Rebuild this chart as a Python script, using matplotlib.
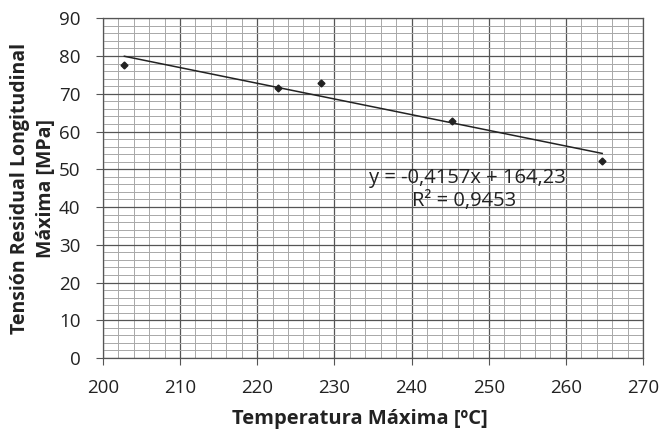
import numpy as np
import matplotlib.pyplot as plt
from matplotlib.ticker import MultipleLocator

temp = [202.8, 222.7, 228.3, 245.3, 264.7]
tension = [77.5, 71.5, 72.8, 62.8, 52.3]
slope = -0.4157
intercept = 164.23
r2 = 0.9453

plt.rcParams['font.family'] = ['Open Sans', 'DejaVu Sans']

fig = plt.figure(figsize=(6.63, 4.34), dpi=100)
ax = fig.add_axes([0.155, 0.175, 0.815, 0.783])

ax.set_xlim(200, 270)
ax.set_ylim(0, 90)
ax.xaxis.set_major_locator(MultipleLocator(10))
ax.yaxis.set_major_locator(MultipleLocator(10))
ax.xaxis.set_minor_locator(MultipleLocator(2))
ax.yaxis.set_minor_locator(MultipleLocator(2))
ax.grid(which='major', color='#555555', lw=0.9)
ax.grid(which='minor', color='#a8a8a8', lw=0.7)
ax.set_axisbelow(True)
for s in ax.spines.values():
    s.set_color('#555555')
    s.set_linewidth(0.9)
ax.tick_params(which='major', length=5, color='#555555', labelsize=13.5, labelcolor='#222222')
ax.tick_params(axis='x', pad=10)
ax.tick_params(axis='y', pad=11)
ax.tick_params(which='minor', length=0)

xs = np.array([min(temp), max(temp)])
ax.plot(xs, slope * xs + intercept, color='#222222', lw=1.1)
ax.plot(temp, tension, 'D', color='#222222', ms=3.5, ls='none')

eq = 'y = {}x + {}'.format(str(slope).replace('.', ','), str(intercept).replace('.', ','))
ax.text(247.3, 47.7, eq, ha='center', va='center', fontsize=14.5, color='#222222')
ax.text(246.8, 41.6, 'R² = {}'.format(str(r2).replace('.', ',')), ha='center', va='center', fontsize=14.5, color='#222222')

ax.set_xlabel('Temperatura Máxima [ºC]', fontsize=14.5, fontweight='bold', color='#222222', labelpad=9)
ax.xaxis.label.set_x(0.476)
ax.set_ylabel('Tensión Residual Longitudinal\nMáxima [MPa]', fontsize=14, fontweight='bold', color='#222222',
              labelpad=2, linespacing=1.45)

fig.savefig('out.png', dpi=100)
